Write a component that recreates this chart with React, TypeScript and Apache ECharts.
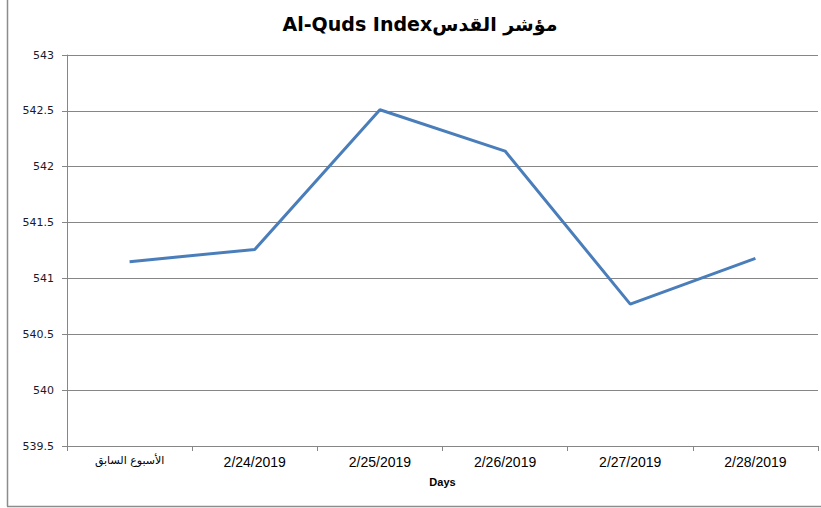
import React, { useEffect, useRef } from "react";
import * as echarts from "echarts";

const categories = ["الأسبوع السابق", "2/24/2019", "2/25/2019", "2/26/2019", "2/27/2019", "2/28/2019"];
const indexValues = [541.15, 541.26, 542.51, 542.14, 540.77, 541.18];
const yMin = 539.5;
const yMax = 543;
const yStep = 0.5;
const titleText = "Al-Quds Indexمؤشر القدس";
const xAxisName = "Days";

export default function App() {
  const ref = useRef<HTMLDivElement>(null);
  useEffect(() => {
    if (!ref.current) return;
    const chart = echarts.init(ref.current, null, { renderer: "svg" });
    const axisGray = "#868686";
    chart.setOption({
      animation: false,
      backgroundColor: "#ffffff",
      grid: { left: 67, right: 3, top: 55, bottom: 62, containLabel: false },
      graphic: [
        {
          type: "text",
          x: 420,
          y: 24,
          style: {
            text: titleText,
            fontFamily: "DejaVu Sans",
            fontWeight: "bold",
            fontSize: 19,
            fill: "#000",
            textAlign: "center",
            textVerticalAlign: "middle",
          },
        },
        {
          type: "line",
          shape: { x1: 7.5, y1: 0, x2: 7.5, y2: 506.5 },
          style: { stroke: "#8c8c8c", lineWidth: 1.5 },
        },
        {
          type: "line",
          shape: { x1: 7, y1: 506.5, x2: 821, y2: 506.5 },
          style: { stroke: "#8c8c8c", lineWidth: 1.5 },
        },
      ],
      xAxis: {
        type: "category",
        data: categories,
        boundaryGap: true,
        name: xAxisName,
        nameLocation: "middle",
        nameGap: 30,
        nameTextStyle: { fontFamily: "Liberation Sans", fontWeight: "bold", fontSize: 11, color: "#000" },
        axisLine: { show: true, lineStyle: { color: axisGray, width: 1 } },
        axisTick: { show: true, length: 5, lineStyle: { color: axisGray } },
        axisLabel: {
          fontFamily: "Liberation Sans",
          fontSize: 14,
          color: "#000",
          margin: 9,
          interval: 0,
          formatter: (v: string, i: number) => (i === 0 ? "{ar|" + v + "}" : v),
          rich: { ar: { fontFamily: "DejaVu Sans", fontSize: 11, color: "#000" } },
        },
        splitLine: { show: false },
      },
      yAxis: {
        type: "value",
        min: yMin,
        max: yMax,
        interval: yStep,
        axisLine: { show: true, lineStyle: { color: axisGray, width: 1 } },
        axisTick: { show: true, length: 5, lineStyle: { color: axisGray } },
        axisLabel: { fontFamily: "DejaVu Sans", fontSize: 11, color: "#1a1a2a", margin: 13 },
        splitLine: { show: true, lineStyle: { color: axisGray, width: 1 } },
      },
      series: [
        {
          type: "line",
          data: indexValues,
          showSymbol: false,
          symbol: "none",
          lineStyle: { color: "#4a7ebb", width: 3 },
        },
      ],
    });
    return () => chart.dispose();
  }, []);
  return <div ref={ref} style={{ width: 821, height: 508, position: "absolute", left: 0, top: 0 }} />;
}
